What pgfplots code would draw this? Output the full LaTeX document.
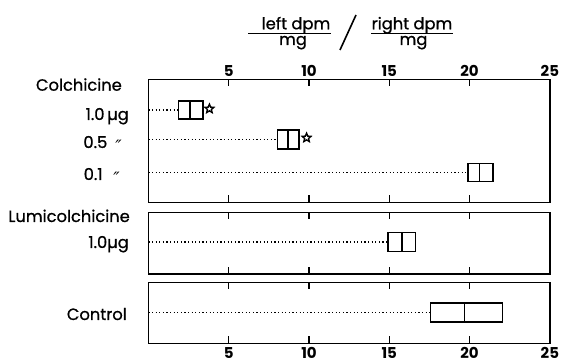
\documentclass[border=0pt]{standalone}
\usepackage{pgfplots}
\pgfplotsset{compat=1.18}
\usepackage{fontspec}
\setmainfont{Poppins}
\newfontfamily\lab{Poppins}[FakeBold=0.8]
\newfontfamily\dejavu{DejaVu Sans}
\newcommand{\ditto}{\raisebox{-5pt}{\dejavu\itshape\fontsize{17}{17}\selectfont ″}}
\pgfdeclareplotmark{ostar}{%
  \pgfpathmoveto{\pgfpointpolar{90}{\pgfplotmarksize}}%
  \pgfpathlineto{\pgfpointpolar{126}{0.45\pgfplotmarksize}}%
  \pgfpathlineto{\pgfpointpolar{162}{\pgfplotmarksize}}%
  \pgfpathlineto{\pgfpointpolar{198}{0.45\pgfplotmarksize}}%
  \pgfpathlineto{\pgfpointpolar{234}{\pgfplotmarksize}}%
  \pgfpathlineto{\pgfpointpolar{270}{0.45\pgfplotmarksize}}%
  \pgfpathlineto{\pgfpointpolar{306}{\pgfplotmarksize}}%
  \pgfpathlineto{\pgfpointpolar{342}{0.45\pgfplotmarksize}}%
  \pgfpathlineto{\pgfpointpolar{18}{\pgfplotmarksize}}%
  \pgfpathlineto{\pgfpointpolar{54}{0.45\pgfplotmarksize}}%
  \pgfpathclose
  \pgfusepathqstroke}
\begin{document}
\begin{tikzpicture}
\useasboundingbox (0,0) rectangle (574pt,363pt);
\pgfplotsset{panel/.style={scale only axis, width=401.5pt, xmin=0, xmax=25, ymin=0,
  xtick={5,10,15,20,25}, ytick=\empty, tick align=inside, major tick length=7pt,
  axis line style={line width=1.5pt}, every tick/.style={line width=1.4pt, black},
  xticklabel style={font=\fontsize{15}{15}\selectfont\bfseries},
  /pgf/number format/assume math mode=true, anchor=south west, clip=false},
  bx/.style={black, line width=1.5pt, line join=miter, mark=none},
  dt/.style={black, line width=1.1pt, dash pattern=on 1.1pt off 2.5pt, mark=none},
  st/.style={only marks, mark=ostar, mark size=4.6pt, mark options={line width=1.4pt, line join=miter, black}}}
% panel 1: Colchicine
\begin{axis}[panel, at={(148.4pt,160.7pt)}, height=123pt, ymax=123, xticklabel pos=upper,
  xticklabel style={yshift=-1pt}]
\addplot[dt] coordinates {(0,92.3) (1.88,92.3)};
\addplot[bx] coordinates {(1.88,83.3) (3.40,83.3) (3.40,101.3) (1.88,101.3)} -- cycle;
\addplot[bx] coordinates {(2.58,83.3) (2.58,101.3)};
\addplot[st] coordinates {(3.80,93.5)};
\addplot[dt] coordinates {(0,62.8) (8.04,62.8)};
\addplot[bx] coordinates {(8.04,53.3) (9.38,53.3) (9.38,72.3) (8.04,72.3)} -- cycle;
\addplot[bx] coordinates {(8.70,53.3) (8.70,72.3)};
\addplot[st] coordinates {(9.85,64.5)};
\addplot[dt] coordinates {(0,29.8) (19.90,29.8)};
\addplot[bx] coordinates {(19.90,20.8) (21.47,20.8) (21.47,38.8) (19.90,38.8)} -- cycle;
\addplot[bx] coordinates {(20.61,20.8) (20.61,38.8)};
\end{axis}
% panel 2: Lumicolchicine
\begin{axis}[panel, at={(148.4pt,89pt)}, height=61.7pt, ymax=61.7, xticklabels={}]
\addplot[dt] coordinates {(0,32) (14.92,32)};
\addplot[bx] coordinates {(14.92,22.5) (16.62,22.5) (16.62,41.5) (14.92,41.5)} -- cycle;
\addplot[bx] coordinates {(15.78,22.5) (15.78,41.5)};
\end{axis}
% panel 3: Control
\begin{axis}[panel, at={(148.4pt,19.7pt)}, height=61pt, ymax=61,
  xticklabel style={yshift=-0.5pt}]
\addplot[dt] coordinates {(0,30.7) (17.55,30.7)};
\addplot[bx] coordinates {(17.55,21.3) (22.06,21.3) (22.06,40.3) (17.55,40.3)} -- cycle;
\addplot[bx] coordinates {(19.68,21.3) (19.68,40.3)};
\end{axis}
% row labels
\begin{scope}[every node/.style={anchor=base east, inner sep=0pt, font=\lab\fontsize{16.3}{17}\selectfont}]
\node at (122pt,272.3pt) {Colchicine};
\node at (129pt,243pt) {1.0\,µg};
\node at (122pt,215pt) {0.5\,\,\,\ditto};
\node at (120pt,183pt) {0.1\,\,\,\,\ditto};
\node at (130pt,141pt) {Lumicolchicine};
\node at (129pt,115pt) {1.0µg};
\node at (127pt,43pt) {Control};
\end{scope}
% title
\begin{scope}[every node/.style={anchor=base, inner sep=0pt, font=\lab\fontsize{16.3}{17}\selectfont}]
\node at (296pt,333.7pt) {left dpm};
\node at (293pt,318pt) {mg};
\draw[line width=1.1pt] (248pt,329.7pt) -- (331pt,329.7pt);
\draw[line width=1.6pt] (340pt,313pt) -- (356pt,348pt);
\node at (412pt,333.7pt) {right dpm};
\node at (413.5pt,318pt) {mg};
\draw[line width=1.1pt] (371pt,329.7pt) -- (453pt,329.7pt);
\end{scope}
\end{tikzpicture}
\end{document}
